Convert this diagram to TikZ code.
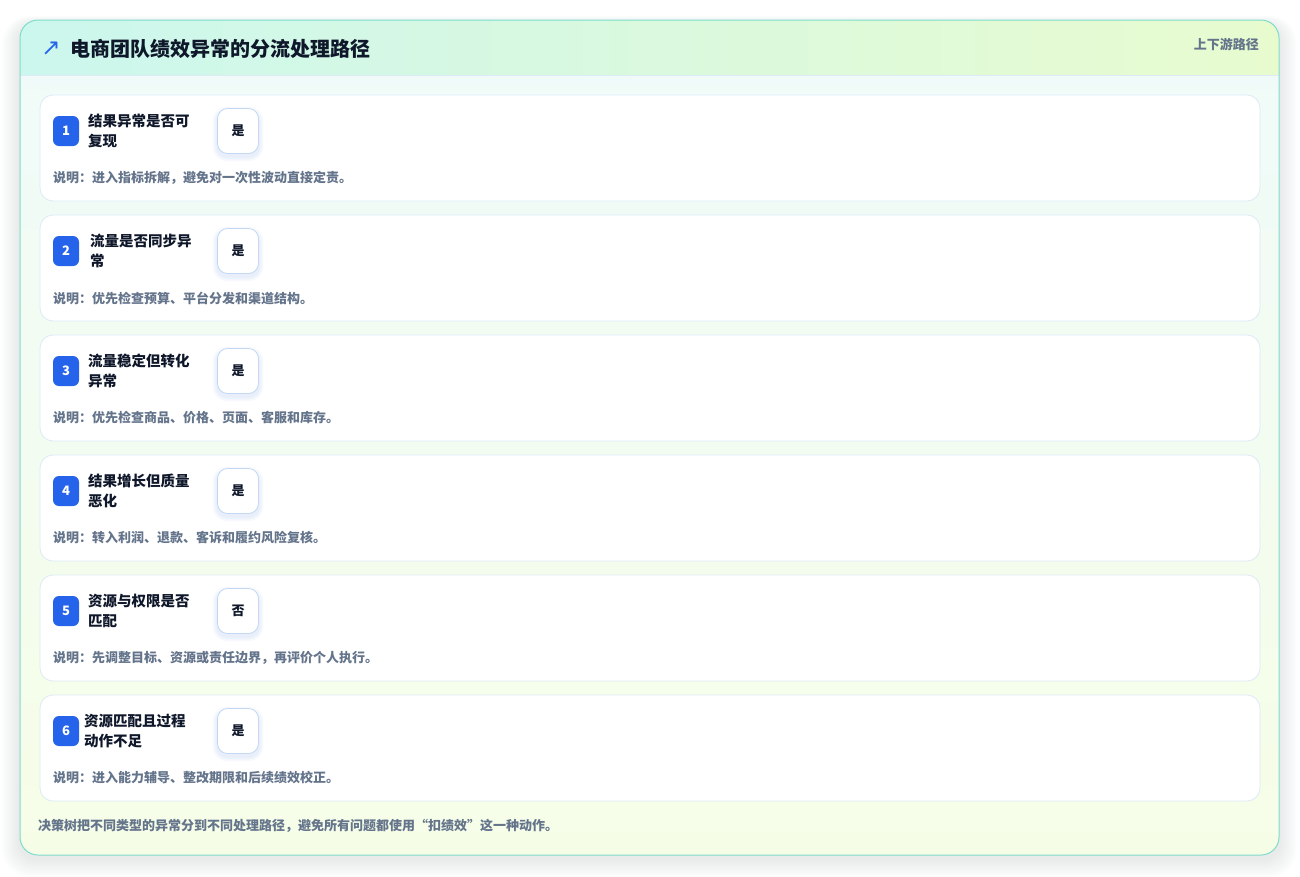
\documentclass[tikz,border=0pt]{standalone}
\usepackage{fontspec}
\setmainfont{Noto Sans CJK SC}
\newfontfamily\dejavu{DejaVu Sans}
\definecolor{cardborder}{HTML}{7FDCCB}
\definecolor{hdrL}{HTML}{CCF7EE}
\definecolor{hdrR}{HTML}{E8FBCF}
\definecolor{bodyT}{HTML}{F0FBFA}
\definecolor{bodyB}{HTML}{F6FDE7}
\definecolor{rowborder}{HTML}{DCEBF5}
\definecolor{ansborder}{HTML}{C3D8F5}
\definecolor{badgeblue}{HTML}{2563EB}
\definecolor{titlecol}{HTML}{0F172A}
\definecolor{greytext}{HTML}{64748B}
\definecolor{shadowcol}{HTML}{94A3B8}
\tikzset{
  rowbox/.style={draw=rowborder, line width=0.8pt, fill=white, rounded corners=13pt},
  badge/.style={fill=badgeblue, rounded corners=6pt, minimum width=26pt, minimum height=30pt, inner sep=0pt, text=white, font=\fontsize{13}{13}\selectfont\bfseries},
  qtext/.style={anchor=north west, inner sep=0pt, align=left, text=titlecol, font=\fontsize{14.5}{20}\selectfont\bfseries},
  ansbox/.style={draw=ansborder, line width=0.8pt, fill=white, rounded corners=10pt, minimum width=41pt, minimum height=45pt, inner sep=0pt, text=titlecol, font=\fontsize{13}{13}\selectfont\bfseries},
  desc/.style={anchor=west, inner sep=0pt, text=greytext, font=\fontsize{13}{13}\selectfont\bfseries},
}
\begin{document}
\begin{tikzpicture}[x=1pt,y=-1pt]
\useasboundingbox (0,0) rectangle (1300,876);
\fill[white] (0,0) rectangle (1300,876);
% soft outer shadow
\foreach \k in {1,...,10}{
  \fill[shadowcol, opacity=0.018, rounded corners={18pt+\k pt}] (20-\k*1.8,20-\k*0.8+4) rectangle (1279+\k*1.8,855+\k*1.8+4);
}
% card body
\begin{scope}
\clip[rounded corners=18pt] (20,20) rectangle (1279,855);
\shade[top color=bodyT, bottom color=bodyB] (20,20) rectangle (1279,855);
\shade[left color=hdrL, right color=hdrR] (20,20) rectangle (1279,75);
\draw[rowborder, line width=0.8pt] (20,75) -- (1279,75);
\end{scope}
\draw[cardborder, line width=1pt, rounded corners=18pt] (20,20) rectangle (1279,855);
% header
\node[anchor=center, inner sep=0pt, text=badgeblue, font=\fontsize{23}{23}\selectfont\dejavu] (arrow) at (51,49) {↗};
\node[anchor=west, inner sep=0pt, text=titlecol, font=\fontsize{20}{20}\selectfont\bfseries] (title) at (70,49) {电商团队绩效异常的分流处理路径};
\node[anchor=east, inner sep=0pt, text=greytext, font=\fontsize{13}{13}\selectfont\bfseries] (tag) at (1259,44) {上下游路径};
% rows
\foreach \i/\q/\a/\d/\qx in {
  1/{结果异常是否可\\复现}/是/{说明：进入指标拆解，避免对一次性波动直接定责。}/88,
  2/{流量是否同步异\\常}/是/{说明：优先检查预算、平台分发和渠道结构。}/90,
  3/{流量稳定但转化\\异常}/是/{说明：优先检查商品、价格、页面、客服和库存。}/88,
  4/{结果增长但质量\\恶化}/是/{说明：转入利润、退款、客诉和履约风险复核。}/88,
  5/{资源与权限是否\\匹配}/否/{说明：先调整目标、资源或责任边界，再评价个人执行。}/88,
  6/{资源匹配且过程\\动作不足}/是/{说明：进入能力辅导、整改期限和后续绩效校正。}/84}
{
  \pgfmathsetmacro{\top}{95+(\i-1)*120}
  \draw[rowbox] (40,\top) rectangle (1260,\top+106);
  \node[badge] (b\i) at (66,\top+36) {\i};
  \node[qtext] (q\i) at (\qx,\top+19) {\q};
  \foreach \k in {1,...,5}{
    \fill[badgeblue, opacity=0.02, rounded corners={10pt+\k pt}] (217.5-\k,\top+13.5-\k+3) rectangle (258.5+\k,\top+58.5+\k+3);
  }
  \node[ansbox] (a\i) at (238,\top+36) {\a};
  \node[desc] (d\i) at (53,\top+83) {\d};
}
\node[anchor=west, inner sep=0pt, text=greytext, font=\fontsize{13}{13}\selectfont\bfseries] (foot) at (38,826) {决策树把不同类型的异常分到不同处理路径，避免所有问题都使用“扣绩效”这一种动作。};
\end{tikzpicture}
\end{document}
